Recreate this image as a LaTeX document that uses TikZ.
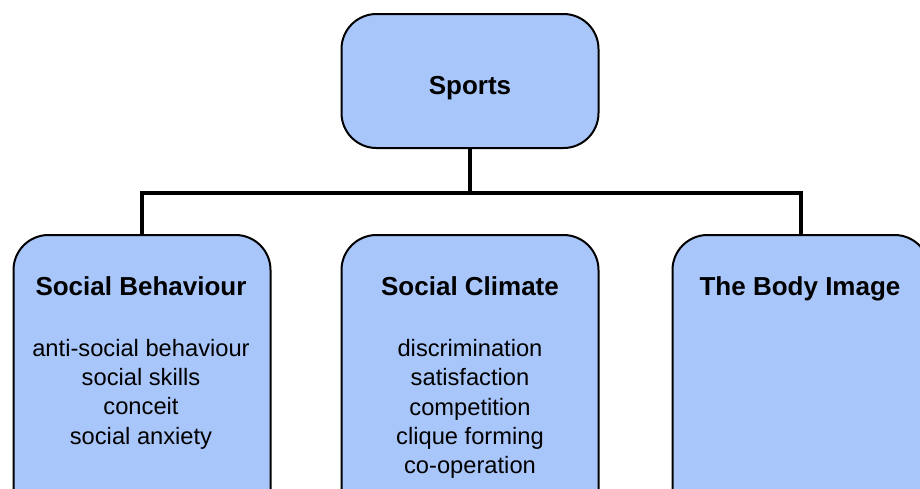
\documentclass[tikz,border=0pt]{standalone}
\usepackage{fontspec}
\setmainfont{Liberation Sans}
\definecolor{boxblue}{RGB}{169,198,251}
\begin{document}
\begin{tikzpicture}[x=1pt,y=-1pt,
  box/.style={draw=black,line width=2pt,fill=boxblue,rounded corners=35pt,inner sep=0pt},
  title/.style={font=\fontsize{26}{30}\selectfont\bfseries,inner sep=0pt,anchor=base},
  items/.style={font=\fontsize{23.7}{29.3}\selectfont,align=center,inner sep=0pt},
  conn/.style={draw=black,line width=4.5pt}]
\useasboundingbox (0,0) rectangle (920,488);
\clip (0,0) rectangle (920,488);
\node[box,minimum width=257pt,minimum height=134pt] (sports) at (470,81) {};
\node[box,minimum width=257pt,minimum height=300pt] (sb) at (142,385) {};
\node[box,minimum width=257pt,minimum height=300pt] (sc) at (470,385) {};
\node[box,minimum width=257pt,minimum height=300pt] (bi) at (801,385) {};
\coordinate (bus) at (470,193);
\draw[conn] (sports.south) -- (sports.south |- bus);
\draw[conn] (sb.north) -- (sb.north |- bus) -- (bi.north |- bus) -- (bi.north);
\node[title] (tsports) at (470,94.5) {Sports};
\node[title] (tsb) at (141,295.5) {Social Behaviour};
\node[title] (tsc) at (470,295.5) {Social Climate};
\node[title] (tbi) at (800,295.5) {The Body Image};
\node[items] (isb) at (141,394) {anti-social behaviour\\social skills\\conceit\\social anxiety};
\node[items] (isc) at (470,409) {discrimination\\satisfaction\\competition\\clique forming\\co-operation};
\end{tikzpicture}
\end{document}
